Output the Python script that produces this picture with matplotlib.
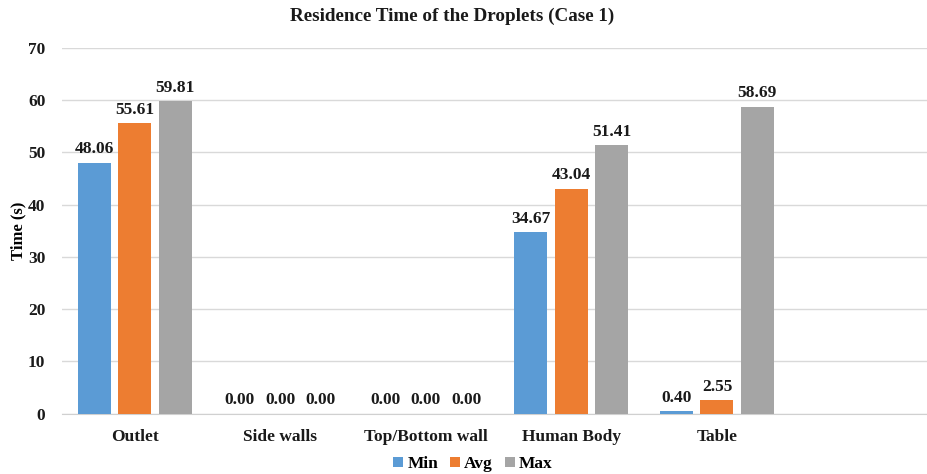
import numpy as np
import matplotlib
matplotlib.use('Agg')
from matplotlib import pyplot as plt

plt.rcParams['font.family'] = ['Liberation Serif', 'DejaVu Serif']
plt.rcParams['font.weight'] = 'bold'

categories = ['Outlet', 'Side walls', 'Top/Bottom wall', 'Human Body', 'Table']
t_min = [48.06, 0.00, 0.00, 34.67, 0.40]
t_avg = [55.61, 0.00, 0.00, 43.04, 2.55]
t_max = [59.81, 0.00, 0.00, 51.41, 58.69]
series = ['Min', 'Avg', 'Max']
colors = ['#5b9bd5', '#ed7d31', '#a5a5a5']

fig = plt.figure(figsize=(9.28, 4.74), dpi=100)
ax = fig.add_axes([62 / 928, 1 - 413.5 / 474, 1 - 62 / 928, (413.5 - 48) / 474])

x = np.arange(len(categories))
step = 0.278
width = 0.227
for i, (vals, name, c) in enumerate(zip([t_min, t_avg, t_max], series, colors)):
    pos = x + (i - 1) * step
    ax.bar(pos, vals, width, color=c, label=name, zorder=3)
    for xp, v in zip(pos, vals):
        ax.annotate(f"{v:.2f}", (xp, v), xytext=(0, 4), textcoords='offset points',
                    ha='center', va='bottom', fontsize=12.5, fontweight='bold',
                    color='#1a1a1a', zorder=4)

ax.set_xlim(-0.5, 5.45)
ax.set_ylim(0, 70)
ax.set_yticks(np.arange(0, 71, 10))
ax.grid(axis='y', color='#d9d9d9', linewidth=1.0, zorder=0)
ax.set_xticks(x)
ax.set_xticklabels(categories, fontsize=12.5, fontweight='bold')
ax.tick_params(axis='both', length=0, labelsize=12.5, colors='#1a1a1a')
ax.tick_params(axis='x', pad=11)
ax.tick_params(axis='y', pad=12)
for s in ['top', 'right', 'left']:
    ax.spines[s].set_visible(False)
ax.spines['bottom'].set_color('#d0d0d0')
ax.set_ylabel('Time (s)', fontsize=12, fontweight='bold', labelpad=1)

fig.text(452 / 928, 1 - 16 / 474, 'Residence Time of the Droplets (Case 1)',
         ha='center', va='center', fontsize=13.8, fontweight='bold', color='#1a1a1a')

fig.legend(*ax.get_legend_handles_labels(), loc='center', bbox_to_anchor=(473 / 928, 1 - 464 / 474),
           ncol=3, frameon=False, fontsize=12.5, handlelength=0.55, handleheight=0.55,
           handletextpad=0.25, columnspacing=0.7)

fig.savefig('out.png', dpi=100)
